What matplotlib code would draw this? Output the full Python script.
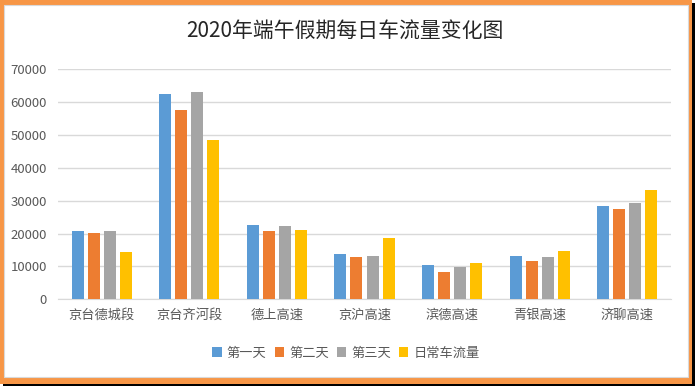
import matplotlib
matplotlib.use('Agg')
import matplotlib.pyplot as plt
import numpy as np
from matplotlib.patches import Rectangle

plt.rcParams['font.family'] = ['Noto Sans CJK SC', 'DejaVu Sans']

# data
categories = ['京台德城段', '京台齐河段', '德上高速', '京沪高速', '滨德高速', '青银高速', '济聊高速']
series_names = ['第一天', '第二天', '第三天', '日常车流量']
day1 = [20800, 62500, 22600, 13800, 10400, 13200, 28400]
day2 = [20200, 57600, 20800, 12900, 8300, 11700, 27500]
day3 = [20800, 63100, 22300, 13200, 9800, 12900, 29300]
normal = [14400, 48500, 21100, 18700, 11100, 14700, 33300]
yticks = [0, 10000, 20000, 30000, 40000, 50000, 60000, 70000]

colors = ['#5B9BD5', '#ED7D31', '#A5A5A5', '#FFC000']

W, H = 699, 390
fig = plt.figure(figsize=(W / 100, H / 100), dpi=100)

# frame: black shadow, orange border, white inside
fig.patches.append(Rectangle((3 / W, 1 - 386 / H), 692 / W, 383 / H, transform=fig.transFigure,
                             facecolor='black', edgecolor='none', zorder=-3))
fig.patches.append(Rectangle((0, 1 - 384 / H), 692 / W, 384 / H, transform=fig.transFigure,
                             facecolor='#F79646', edgecolor='none', zorder=-2))
fig.patches.append(Rectangle((4 / W, 1 - 377 / H), 684 / W, 372 / H, transform=fig.transFigure,
                             facecolor='white', edgecolor='#D9D9D9', linewidth=0.8, zorder=-1))

ax = fig.add_axes([58 / W, 1 - 299.3 / H, 613 / W, 230 / H])
ax.set_zorder(2)
ax.patch.set_alpha(0)

x = np.arange(len(categories))
w = 0.137
step = 0.183
data = [day1, day2, day3, normal]
for i, (vals, name) in enumerate(zip(data, series_names)):
    ax.bar(x + (i - 1.5) * step, vals, width=w, color=colors[i], label=name, zorder=3)

ax.set_ylim(0, 70000)
ax.set_xlim(-0.5, len(categories) - 0.5)
ax.set_yticks(yticks)
ax.set_yticklabels([str(v) for v in yticks])
ax.set_xticks(x)
ax.set_xticklabels(categories)
ax.grid(axis='y', color='#D9D9D9', linewidth=1, zorder=0)
for s in ['top', 'right', 'left']:
    ax.spines[s].set_visible(False)
ax.spines['bottom'].set_color('#D9D9D9')
ax.tick_params(axis='both', length=0, colors='#595959', labelsize=9.5)
ax.tick_params(axis='x', pad=7)
ax.tick_params(axis='y', pad=8)

fig.text(345 / W, 1 - 32 / H, '2020年端午假期每日车流量变化图', ha='center', va='center',
         fontsize=15, color='#262626')

leg = fig.legend(loc='center', bbox_to_anchor=(346 / W, 1 - 353 / H), ncol=4, frameon=False,
                 fontsize=9.5, handlelength=0.7, handleheight=0.7, handletextpad=0.4,
                 columnspacing=0.6, labelcolor='#595959')

fig.savefig('out.png', dpi=100)
